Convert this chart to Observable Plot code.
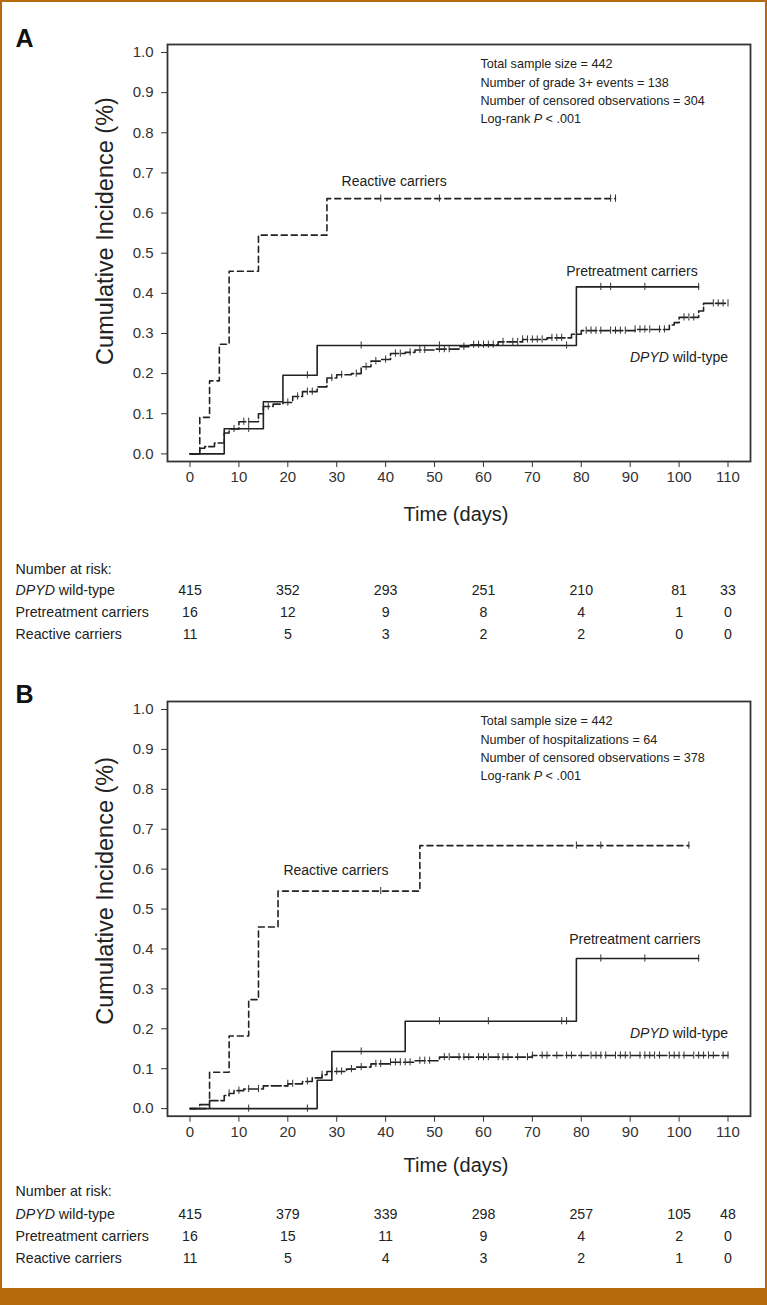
<!DOCTYPE html>
<html>
<head>
<meta charset="utf-8">
<script src="https://cdn.jsdelivr.net/npm/d3@7"></script>
<script src="https://cdn.jsdelivr.net/npm/@observablehq/plot@0.6"></script>
<style>
  body { margin: 0; background: #fff; }
  #page { position: relative; width: 767px; height: 1305px; background: #fff; overflow: hidden; font-family: "Liberation Sans", Arial, sans-serif; }
  #pa, #pb { position: absolute; left: 0; }
  #pa { top: 0; }
  #pb { top: 650px; }
  #bar { position: absolute; left: 0; right: 0; bottom: 0; height: 17px; background: #b66a0c; }
  #border { position: absolute; left: 0; top: 0; right: 0; bottom: 0; border: 2px solid #b66a0c; pointer-events: none; }
</style>
</head>
<body>
<div id="page">
  <div id="pa"></div>
  <div id="pb"></div>
  <div id="bar"></div>
  <div id="border"></div>
</div>
<script>
// ---------- shared ----------
const xTicks = [0, 10, 20, 30, 40, 50, 60, 70, 80, 90, 100, 110];
const yTicks = [0, 0.1, 0.2, 0.3, 0.4, 0.5, 0.6, 0.7, 0.8, 0.9, 1.0];
const groups = ["DPYD wild-type", "Pretreatment carriers", "Reactive carriers"];
const riskTimes = [0, 20, 40, 60, 80, 100, 110];

// ---------- Panel A: grade 3+ events ----------
const aWtT = [0, 2, 3, 5, 7, 8, 10, 14, 15, 17, 19, 21, 23, 26, 28, 30, 33, 35, 37, 39, 41, 44, 46, 50, 55, 57, 63, 68, 73, 78, 80, 91, 98, 99, 100, 104, 105];
const aWtV = [0, 0.014, 0.018, 0.027, 0.052, 0.062, 0.08, 0.1, 0.118, 0.124, 0.128, 0.143, 0.155, 0.167, 0.189, 0.197, 0.2, 0.217, 0.231, 0.235, 0.25, 0.253, 0.259, 0.261, 0.267, 0.272, 0.279, 0.285, 0.289, 0.298, 0.307, 0.31, 0.321, 0.327, 0.34, 0.356, 0.375];
const aWtEnd = 110;
const aWtCens = [9, 11, 12, 16, 20, 22, 24, 25, 29, 31, 34, 36, 38, 40, 42, 43, 45, 47, 48, 51, 52, 53, 56, 58, 59, 60, 61, 62, 64, 66, 67, 68, 69, 70, 71, 72, 74, 75, 76, 81, 82, 83, 84, 86, 87, 88, 89, 91, 92, 93, 94, 96, 97, 101, 102, 103, 107, 108, 109, 110];
const aPreT = [0, 7, 15, 19, 26, 79];
const aPreV = [0, 0.0625, 0.13, 0.196, 0.27, 0.416];
const aPreEnd = 104;
const aPreCens = [12, 24, 35, 51, 77, 84, 86, 93, 104];
const aReT = [0, 2, 4, 6, 8, 14, 28];
const aReV = [0, 0.091, 0.182, 0.273, 0.455, 0.545, 0.636];
const aReEnd = 87;
const aReCens = [39, 51, 86, 87];
const aRiskWt = [415, 352, 293, 251, 210, 81, 33];
const aRiskPre = [16, 12, 9, 8, 4, 1, 0];
const aRiskRe = [11, 5, 3, 2, 2, 0, 0];
const aStats = ["Total sample size = 442", "Number of grade 3+ events = 138", "Number of censored observations = 304", "Log-rank P < .001"];

// ---------- Panel B: hospitalizations ----------
const bWtT = [0, 2, 4, 7, 8, 9, 11, 15, 20, 23, 25, 27, 28, 32, 34, 37, 41, 46, 51, 70];
const bWtV = [0, 0.01, 0.02, 0.033, 0.038, 0.045, 0.049, 0.057, 0.062, 0.068, 0.077, 0.085, 0.093, 0.099, 0.104, 0.112, 0.116, 0.12, 0.129, 0.133];
const bWtEnd = 110;
const bWtCens = [8, 10, 12, 14, 20, 21, 24, 27, 29, 30, 31, 33, 35, 38, 39, 41, 42, 43, 44, 45, 47, 48, 49, 52, 53, 55, 56, 57, 59, 60, 61, 63, 64, 65, 67, 69, 70, 72, 73, 75, 77, 78, 80, 82, 83, 84, 85, 87, 88, 89, 90, 92, 93, 94, 95, 96, 98, 99, 100, 101, 103, 104, 105, 106, 107, 109, 110];
const bPreT = [0, 26, 29, 44, 79];
const bPreV = [0, 0.071, 0.143, 0.219, 0.376];
const bPreEnd = 104;
const bPreCens = [12, 24, 35, 51, 61, 76, 77, 84, 93, 104];
const bReT = [0, 4, 8, 12, 14, 18, 47];
const bReV = [0, 0.091, 0.182, 0.273, 0.455, 0.545, 0.659];
const bReEnd = 102;
const bReCens = [39, 79, 84, 102];
const bRiskWt = [415, 379, 339, 298, 257, 105, 48];
const bRiskPre = [16, 15, 11, 9, 4, 2, 0];
const bRiskRe = [11, 5, 4, 3, 2, 1, 0];
const bStats = ["Total sample size = 442", "Number of hospitalizations = 64", "Number of censored observations = 378", "Log-rank P < .001"];

// ---------- helpers ----------
function valueAt(T, V, t) {
  let v = V[0];
  for (let i = 0; i < T.length; i++) if (T[i] <= t) v = V[i];
  return v;
}
const FONT = '"Liberation Sans", Arial, sans-serif';
const INK = "#222";

function panel(cfg) {
  const series = [
    {T: cfg.wtT, V: cfg.wtV, end: cfg.wtEnd, cens: cfg.wtCens, dash: "10,3"},
    {T: cfg.preT, V: cfg.preV, end: cfg.preEnd, cens: cfg.preCens, dash: null},
    {T: cfg.reT, V: cfg.reV, end: cfg.reEnd, cens: cfg.reCens, dash: "6,4"}
  ];
  const marks = [Plot.frame({stroke: "#333", strokeWidth: 1.8})];
  for (const s of series) {
    const pts = s.T.map((t, i) => ({t, v: s.V[i]}));
    pts.push({t: s.end, v: s.V[s.V.length - 1]});
    const lo = {x: "t", y: "v", curve: "step-after", stroke: INK, strokeWidth: 1.6};
    if (s.dash) lo.strokeDasharray = s.dash;
    marks.push(Plot.line(pts, lo));
    const cv = s.cens.map(t => ({t, v: valueAt(s.T, s.V, t)}));
    marks.push(Plot.ruleX(cv, {x: "t", y1: d => d.v - 0.009, y2: d => d.v + 0.009, stroke: "#333", strokeWidth: 1}));
  }
  // curve labels
  for (const L of cfg.labels) {
    marks.push(Plot.text([L], {x: d => d.x, y: d => d.y, text: d => d.text, textAnchor: L.anchor, fontSize: 14, fill: INK}));
  }
  // stats block
  marks.push(Plot.text([cfg.stats.join("\n")], {text: d => d, frameAnchor: "top-right", dx: -270, dy: cfg.statsDy, textAnchor: "start", lineAnchor: "top", lineHeight: 1.45, fontSize: 12.6, fill: INK}));
  // panel letter
  marks.push(Plot.text([cfg.letter], {text: d => d, frameAnchor: "top-left", dx: -152, dy: cfg.letterDy, textAnchor: "start", fontSize: 25, fontWeight: "bold", fill: "#111"}));
  // axis titles
  marks.push(Plot.text(["Cumulative Incidence (%)"], {text: d => d, frameAnchor: "left", rotate: -90, textAnchor: "middle", dx: -62, dy: cfg.ylabDy, fontSize: 23.5, fill: INK}));
  marks.push(Plot.text(["Time (days)"], {text: d => d, frameAnchor: "bottom", dy: cfg.timeDy, dx: -3, fontSize: 20, fill: INK}));
  // number at risk table
  marks.push(Plot.text(["Number at risk:"], {text: d => d, frameAnchor: "bottom-left", dx: -152, dy: cfg.riskDy[0], textAnchor: "start", fontSize: 14.2, fill: INK}));
  const risk = [cfg.riskWt, cfg.riskPre, cfg.riskRe];
  groups.forEach((g, k) => {
    marks.push(Plot.text([g], {text: d => d, frameAnchor: "bottom-left", dx: -152, dy: cfg.riskDy[k + 1], textAnchor: "start", fontSize: 14.2, fill: INK}));
    marks.push(Plot.text(riskTimes, {x: d => d, text: (d, i) => String(risk[k][i]), frameAnchor: "bottom", dy: cfg.riskDy[k + 1], fontSize: 14.2, fill: INK}));
  });

  const svg = Plot.plot({
    width: 767,
    height: cfg.height,
    marginLeft: 167,
    marginRight: 17,
    marginTop: cfg.marginTop,
    marginBottom: cfg.marginBottom,
    style: {fontFamily: FONT, fontSize: "15px", color: "#333", background: "transparent", overflow: "visible"},
    x: {domain: [-4.6, 114.6], ticks: xTicks, tickSize: 6, tickPadding: 4, label: null},
    y: {domain: [-0.019, 1.02], ticks: yTicks, tickFormat: d3.format(".1f"), tickSize: 6, tickPadding: 8, label: null},
    marks
  });
  italicize(svg);
  return svg;
}

function italicize(svg) {
  const nodes = Array.from(svg.querySelectorAll("text, tspan")).filter(n => n.children.length === 0);
  for (const n of nodes) {
    const s = n.textContent;
    let parts = null;
    if (s.startsWith("DPYD")) parts = [["DPYD", true], [s.slice(4), false]];
    else if (s.startsWith("Log-rank P")) parts = [["Log-rank ", false], ["P", true], [s.slice(10), false]];
    if (!parts) continue;
    n.textContent = "";
    for (const [t, it] of parts) {
      const ts = document.createElementNS("http://www.w3.org/2000/svg", "tspan");
      if (it) ts.setAttribute("font-style", "italic");
      ts.textContent = t;
      n.appendChild(ts);
    }
  }
}

const panelA = panel({
  letter: "A", letterDy: -15, height: 650, marginTop: 44, marginBottom: 189, ylabDy: -22,
  wtT: aWtT, wtV: aWtV, wtEnd: aWtEnd, wtCens: aWtCens,
  preT: aPreT, preV: aPreV, preEnd: aPreEnd, preCens: aPreCens,
  reT: aReT, reV: aReV, reEnd: aReEnd, reCens: aReCens,
  riskWt: aRiskWt, riskPre: aRiskPre, riskRe: aRiskRe,
  stats: aStats, statsDy: 11, timeDy: 59, riskDy: [112, 133, 155, 177],
  labels: [
    {text: "Reactive carriers", x: 31, y: 0.679, anchor: "start"},
    {text: "Pretreatment carriers", x: 103.8, y: 0.455, anchor: "end"},
    {text: "DPYD wild-type", x: 110, y: 0.24, anchor: "end"}
  ]
});
const panelB = panel({
  letter: "B", letterDy: -16, height: 638, marginTop: 51, marginBottom: 172.3, ylabDy: -18,
  wtT: bWtT, wtV: bWtV, wtEnd: bWtEnd, wtCens: bWtCens,
  preT: bPreT, preV: bPreV, preEnd: bPreEnd, preCens: bPreCens,
  reT: bReT, reV: bReV, reEnd: bReEnd, reCens: bReCens,
  riskWt: bRiskWt, riskPre: bRiskPre, riskRe: bRiskRe,
  stats: bStats, statsDy: 11, timeDy: 56, riskDy: [80, 103, 125, 147],
  labels: [
    {text: "Reactive carriers", x: 19.1, y: 0.596, anchor: "start"},
    {text: "Pretreatment carriers", x: 104.4, y: 0.424, anchor: "end"},
    {text: "DPYD wild-type", x: 110, y: 0.188, anchor: "end"}
  ]
});
document.getElementById("pa").appendChild(panelA);
document.getElementById("pb").appendChild(panelB);
</script>
</body>
</html>
